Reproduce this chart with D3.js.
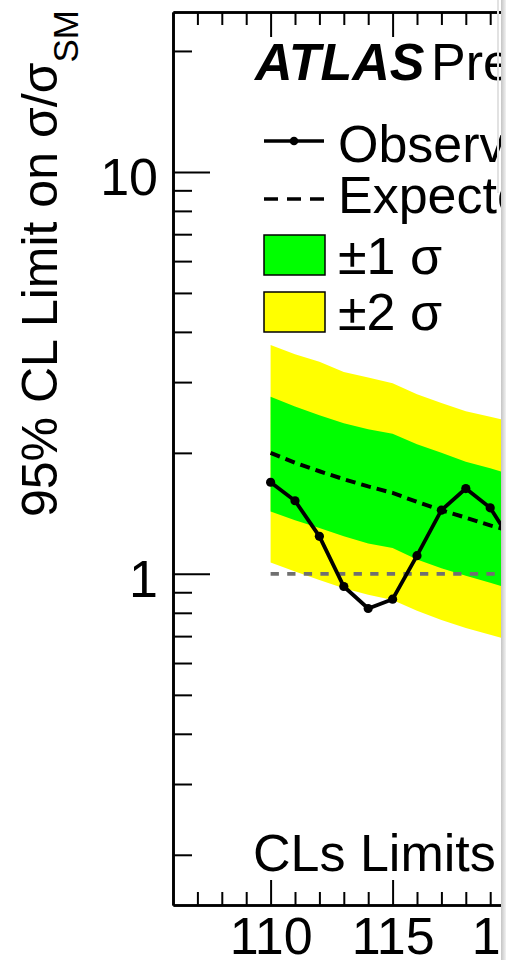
<!DOCTYPE html>
<html>
<head>
<meta charset="utf-8">
<script src="https://cdn.jsdelivr.net/npm/d3@7"></script>
<style>
  body { margin: 0; background: #fff; }
  text { font-family: "Liberation Sans", Arial, Helvetica, sans-serif; fill: #000; }
</style>
</head>
<body>
<div class="limit-plot"></div>
<script>
// Higgs mass points (GeV) and CLs limits on sigma/sigma_SM
const masses = [110, 111, 112, 113, 114, 115, 116, 117, 118, 119, 120];
const observed = [1.69, 1.52, 1.24, 0.93, 0.82, 0.865, 1.11, 1.44, 1.63, 1.46, 1.17];
const expected = [2.00, 1.89, 1.80, 1.72, 1.65, 1.59, 1.51, 1.44, 1.38, 1.32, 1.27];
const band2Up = [3.71, 3.52, 3.37, 3.18, 3.08, 2.98, 2.80, 2.66, 2.54, 2.46, 2.38];
const band1Up = [2.76, 2.61, 2.48, 2.37, 2.29, 2.23, 2.10, 2.00, 1.90, 1.83, 1.76];
const band1Down = [1.43, 1.36, 1.30, 1.24, 1.19, 1.16, 1.086, 1.033, 0.989, 0.951, 0.91];
const band2Down = [1.067, 1.013, 0.966, 0.921, 0.887, 0.861, 0.809, 0.768, 0.733, 0.705, 0.68];

const xMajor = [110, 115, 120];
const xMinor = [107, 108, 109, 111, 112, 113, 114, 116, 117, 118, 119];
const yMajor = [1, 10];
const yMinor = [0.2, 0.3, 0.4, 0.5, 0.6, 0.7, 0.8, 0.9, 2, 3, 4, 5, 6, 7, 8, 9, 20];

const legendItems = ["Observed", "Expected", "\u00B11 \u03C3", "\u00B12 \u03C3"];

const width = 511;
const height = 960;
const frameLeft = 173, frameTop = 12, frameBottom = 905;

const x = d3.scaleLinear().domain([106, 120]).range([frameLeft, frameLeft + 14 * 24.4]);
const y = d3.scaleLog().domain([0.15, 25]).range([frameBottom, frameTop]);

const rows = masses.map((m, i) => ({
	m: m,
	obs: observed[i],
	exp: expected[i],
	u2: band2Up[i], u1: band1Up[i], d1: band1Down[i], d2: band2Down[i]
}));

const svg = d3.select(".limit-plot").append("svg")
	.attr("width", width)
	.attr("height", height);

svg.append("clipPath").attr("id", "cut")
	.append("rect").attr("x", 0).attr("y", 0).attr("width", 501).attr("height", height);

const plot = svg.append("g").attr("clip-path", "url(#cut)");

// bands
const band = (lo, hi) => d3.area()
	.x((d) => x(d.m))
	.y0((d) => y(d[lo]))
	.y1((d) => y(d[hi]));

plot.append("path").datum(rows).attr("d", band("d2", "u2")).style("fill", "#ffff00");
plot.append("path").datum(rows).attr("d", band("d1", "u1")).style("fill", "#00ff00");

// sigma/sigma_SM = 1 reference
plot.append("line")
	.attr("x1", x(110)).attr("x2", x(120))
	.attr("y1", y(1)).attr("y2", y(1))
	.style("stroke", "#707070")
	.style("stroke-width", 3.6)
	.style("stroke-dasharray", "8.3,8.3");

plot.append("path").datum(rows)
	.attr("d", d3.line().x((d) => x(d.m)).y((d) => y(d.exp)))
	.style("fill", "none")
	.style("stroke", "#000")
	.style("stroke-width", 4)
	.style("stroke-dasharray", "10,6");

plot.append("path").datum(rows)
	.attr("d", d3.line().x((d) => x(d.m)).y((d) => y(d.obs)))
	.style("fill", "none")
	.style("stroke", "#000")
	.style("stroke-width", 3.8);

plot.selectAll(".obs-dot")
	.data(rows).enter()
	.append("circle")
	.attr("class", "obs-dot")
	.attr("cx", (d) => x(d.m))
	.attr("cy", (d) => y(d.obs))
	.attr("r", 4.6);

// axes, ROOT style: ticks pointing inward
const styleAxis = (g) => {
	g.selectAll("path, line").style("stroke", "#000").style("stroke-width", 2);
	g.select(".domain").style("stroke-width", 2.6);
	g.selectAll("text").style("font-size", "52px").attr("fill", "#000")
		.style("font-family", "'Liberation Sans', Arial, sans-serif");
};

plot.append("g").attr("transform", `translate(0,${frameBottom})`)
	.call(d3.axisBottom(x).tickValues(xMinor).tickSizeInner(-13).tickSizeOuter(0).tickFormat(""))
	.call(styleAxis);
plot.append("g").attr("transform", `translate(0,${frameBottom})`)
	.call(d3.axisBottom(x).tickValues(xMajor).tickSizeInner(-25).tickSizeOuter(0).tickPadding(12).tickFormat(d3.format("d")))
	.call(styleAxis);

plot.append("g").attr("transform", `translate(0,${frameTop})`)
	.call(d3.axisTop(x).tickValues(xMinor).tickSizeInner(-13).tickSizeOuter(0).tickFormat(""))
	.call(styleAxis);
plot.append("g").attr("transform", `translate(0,${frameTop})`)
	.call(d3.axisTop(x).tickValues(xMajor).tickSizeInner(-25).tickSizeOuter(0).tickFormat(""))
	.call(styleAxis);

plot.append("g").attr("transform", `translate(${frameLeft},0)`)
	.call(d3.axisLeft(y).tickValues(yMinor).tickSizeInner(-19).tickSizeOuter(0).tickFormat(""))
	.call(styleAxis);
plot.append("g").attr("transform", `translate(${frameLeft},0)`)
	.call(d3.axisLeft(y).tickValues(yMajor).tickSizeInner(-37).tickSizeOuter(0).tickPadding(15).tickFormat(d3.format("d")))
	.call(styleAxis)
	.selectAll("text").attr("dy", "0.43em");

// y title
const ytitle = svg.append("text")
	.attr("transform", "translate(57,10) rotate(-90)")
	.attr("text-anchor", "end")
	.style("font-size", "50px");
ytitle.append("tspan").text("95% CL Limit on \u03C3/\u03C3");
ytitle.append("tspan").attr("dy", 21).style("font-size", "35px").text("SM");

// labels
plot.append("text").attr("x", 255).attr("y", 80)
	.style("font-size", "52px").style("font-weight", "bold").style("font-style", "italic")
	.text("ATLAS");
plot.append("text").attr("x", 431).attr("y", 80)
	.style("font-size", "52px").text("Preliminary");
plot.append("text").attr("x", 253).attr("y", 871)
	.style("font-size", "52px").text("CLs Limits");

// legend
const lg = plot.append("g").attr("class", "legend");
lg.append("line").attr("x1", 264).attr("x2", 324).attr("y1", 141).attr("y2", 141)
	.style("stroke", "#000").style("stroke-width", 3.5);
lg.append("circle").attr("cx", 294).attr("cy", 141).attr("r", 4.3);
lg.append("line").attr("x1", 264).attr("x2", 324).attr("y1", 199).attr("y2", 199)
	.style("stroke", "#000").style("stroke-width", 3.5).style("stroke-dasharray", "14,9");
lg.append("rect").attr("x", 264).attr("y", 235).attr("width", 61).attr("height", 40)
	.style("fill", "#00ff00").style("stroke", "#000").style("stroke-width", 1.5);
lg.append("rect").attr("x", 264).attr("y", 292).attr("width", 61).attr("height", 40)
	.style("fill", "#ffff00").style("stroke", "#000").style("stroke-width", 1.5);

const baselines = [162, 213, 274, 330];
lg.selectAll(".entry")
	.data(legendItems).enter()
	.append("text")
	.attr("class", "entry")
	.attr("x", 338)
	.attr("y", (d, i) => baselines[i])
	.style("font-size", "52px")
	.text((d) => d);

// cropped edge of the original panel
const grad = svg.append("defs").append("linearGradient").attr("id", "edge");
grad.append("stop").attr("offset", "0%").attr("stop-color", "#c4c4c4");
grad.append("stop").attr("offset", "100%").attr("stop-color", "#f2f2f2");
svg.append("rect").attr("x", 501).attr("y", 0).attr("width", 5).attr("height", height)
	.style("fill", "url(#edge)");
svg.append("line").attr("x1", 498).attr("x2", 498).attr("y1", 0).attr("y2", 193)
	.style("stroke", "#e2e2e2").style("stroke-width", 2);
</script>
</body>
</html>
